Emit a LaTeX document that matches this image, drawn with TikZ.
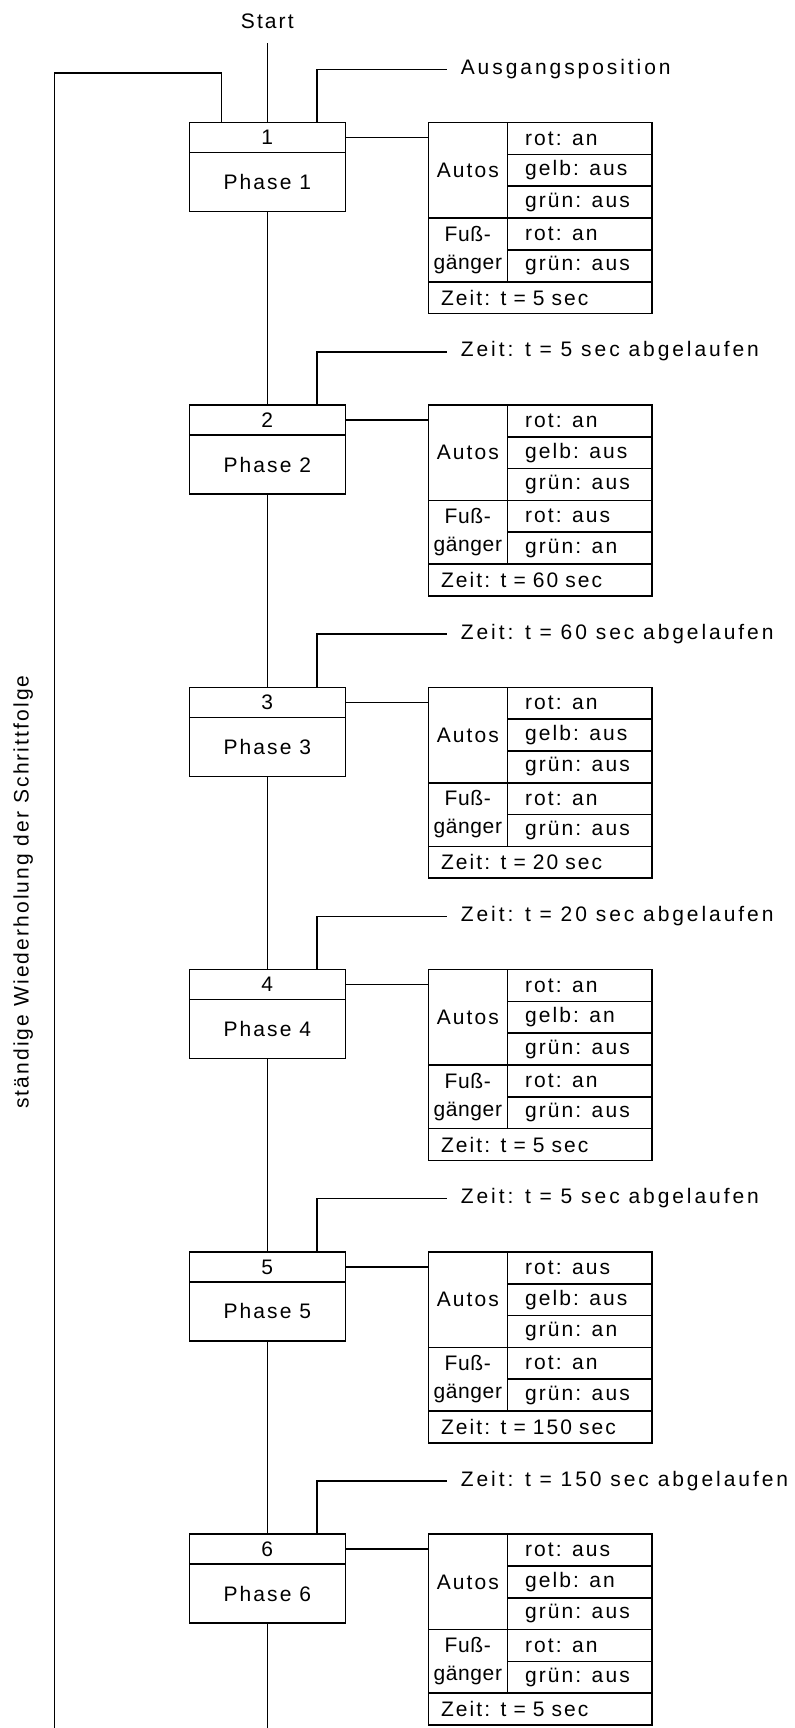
\documentclass[tikz,border=0pt]{standalone}
\usepackage{fontspec}
\setmainfont{Liberation Sans}[LetterSpace=10]
\begin{document}
\begin{tikzpicture}[x=.5pt,y=-.5pt,line width=.8pt,
    every node/.style={font=\fontsize{10.5pt}{12.6pt}\selectfont},
    numbox/.style={draw,minimum width=78pt,minimum height=15pt,inner sep=0pt},
    phasebox/.style={draw,minimum width=78pt,minimum height=29.5pt,inner sep=0pt},
    groupcell/.style={draw,minimum width=39.5pt,inner sep=0pt,align=center},
    lampcell/.style={draw,text width=54.5pt,inner xsep=8.85pt,inner ysep=0pt,minimum height=15.9pt,align=left},
    timecell/.style={draw,text width=99pt,inner xsep=6.35pt,inner ysep=0pt,minimum height=15.9pt,align=left},
    note/.style={anchor=mid west,inner xsep=6.65pt,
      font=\fontsize{10.5pt}{12.6pt}\selectfont\addfontfeatures{LetterSpace=14}}]
    \useasboundingbox (0,0) rectangle (795,1728);

    \node (start) [anchor=south,inner ysep=7pt] at (267.3,43.3) {Start};

    \foreach \n/\carr/\cary/\carg/\pedr/\pedg/\dur/\prevdur in
      {1/an/aus/aus/an/aus/5/0, 2/an/aus/aus/aus/an/60/5, 3/an/aus/aus/an/aus/20/60,
       4/an/an/aus/an/aus/5/20, 5/aus/aus/an/an/aus/150/5, 6/aus/an/aus/an/aus/5/150} {
      \pgfmathsetmacro\phy{122.7+(\n-1)*282.3}
      % Schritt
      \node (num\n) [numbox] at (267.3,\phy+15) {\n};
      \node (name\n) [phasebox] at (267.3,\phy+59.5) {Phase \n};
      % Tabelle
      \node (autos\n) [groupcell,minimum height=47.7pt] at (467.8,\phy+47.7) {Autos};
      \node (fuss\n) [groupcell,minimum height=31.8pt,
        font=\fontsize{10.5pt}{14pt}\selectfont\addfontfeatures{LetterSpace=3}]
        at (467.8,\phy+127.2) {Fuß-\\gänger};
      \node (carr\n) [lampcell] at (579.5,\phy+15.9) {rot: \carr};
      \node (cary\n) [lampcell] at (579.5,\phy+47.7) {gelb: \cary};
      \node (carg\n) [lampcell] at (579.5,\phy+79.5) {grün: \carg};
      \node (pedr\n) [lampcell] at (579.5,\phy+111.3) {rot: \pedr};
      \node (pedg\n) [lampcell] at (579.5,\phy+143.1) {grün: \pedg};
      \node (time\n) [timecell] at (540,\phy+174.9) {Zeit: t = \dur\ sec};
      \draw (num\n.east) -- (num\n.east -| autos\n.west);
      % Weiterschaltbedingung
      \node (note\n) [note] at (446.7,\phy-53.3)
        {\ifnum\n=1 Ausgangsposition\else Zeit: t = \prevdur\ sec abgelaufen\fi};
      \draw ([xshift=-14.65pt]num\n.north east) |- (note\n.mid west);
    }

    \draw (start.south) -- (num1.north);
    \foreach \n [evaluate=\n as \m using int(\n-1)] in {2,...,6}
      \draw (name\m.south) -- (num\n.north);

    % Rueckfuehrung
    \coordinate (mainend) at (267.3,1728);
    \coordinate (loopcorner) at (54.5,73.3);
    \coordinate (loopend) at (54.5,1728);
    \draw (name6.south) -- (mainend);
    \draw ([xshift=16.5pt]num1.north west) |- (loopcorner) -- (loopend);
    \node (repeat) [rotate=90] at (23.3,892) {ständige Wiederholung der Schrittfolge};
\end{tikzpicture}
\end{document}
